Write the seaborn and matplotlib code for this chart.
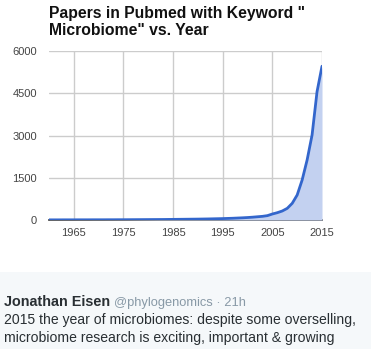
import matplotlib
matplotlib.use("Agg")
import matplotlib.pyplot as plt
import seaborn as sns
import pandas as pd
from matplotlib.patches import Rectangle

years = list(range(1960, 2016))
papers = [5, 5, 5, 6, 6, 6, 7, 7, 7, 8, 8, 8, 9, 9, 10, 10, 11, 12, 13, 14,
          15, 16, 17, 18, 20, 22, 24, 26, 28, 30, 32, 35, 38, 42, 46, 50, 56, 62, 70, 78,
          88, 100, 115, 130, 155, 213, 260, 320, 414, 592, 888, 1420, 2130, 3018, 4556, 5460]
y_ticks = [0, 1500, 3000, 4500, 6000]
x_ticks = [1965, 1975, 1985, 1995, 2005, 2015]

title = 'Papers in Pubmed with Keyword "\nMicrobiome" vs. Year'
tweet_name = "Jonathan Eisen"
tweet_handle = "@phylogenomics · 21h"
tweet_lines = ["2015 the year of microbiomes: despite some overselling,",
               "microbiome research is exciting, important & growing"]

df = pd.DataFrame({"year": years, "papers": papers})

sns.set_style("white")
plt.rcParams["font.family"] = ["Liberation Sans", "DejaVu Sans"]

W, H = 371, 349
fig = plt.figure(figsize=(W / 100, H / 100), dpi=100)
fig.patch.set_facecolor("white")
ax = fig.add_axes([49 / W, 1 - 220 / H, (322 - 49) / W, (220 - 51) / H])

line_color = "#3366cc"
ax.fill_between(df["year"], df["papers"], 0, color="#c3d1f0", lw=0, zorder=2)
sns.lineplot(data=df, x="year", y="papers", ax=ax, color=line_color, lw=2, zorder=3)

ax.set_xlim(1960, 2015)
ax.set_ylim(0, 6000)
ax.set_xticks(x_ticks)
ax.set_yticks(y_ticks)
ax.set_xticklabels([str(t) for t in x_ticks])
ax.set_yticklabels([str(t) for t in y_ticks])
ax.grid(True, color="#cccccc", lw=1, zorder=0)
ax.set_axisbelow(True)
for s in ["top", "right", "left"]:
    ax.spines[s].set_visible(False)
ax.spines["bottom"].set_color("#333333")
ax.spines["bottom"].set_linewidth(1.2)
ax.spines["bottom"].set_zorder(1)
ax.tick_params(axis="both", length=0, labelsize=8, labelcolor="#444444")
ax.tick_params(axis="x", pad=6)
ax.tick_params(axis="y", pad=8.5)
ax.set_xlabel("")
ax.set_ylabel("")

fig.text(49 / W, 1 - 6 / H, title, fontsize=11.3, fontweight="bold", color="#111111",
         ha="left", va="top", linespacing=1.2)

fig.patches.append(Rectangle((0, 0), 1, 1 - 272 / H, transform=fig.transFigure,
                             facecolor="#f5f8fa", edgecolor="none", zorder=0))

name_t = fig.text(4 / W, 1 - 306 / H, tweet_name, fontsize=10.4, fontweight="bold",
                  color="#292f33", ha="left", va="baseline")
fig.canvas.draw()
bb = name_t.get_window_extent()
fig.text((bb.x1 + 4) / W, 1 - 306 / H, tweet_handle, fontsize=9.3, color="#8899a6",
         ha="left", va="baseline")
fig.text(4 / W, 1 - 324 / H, tweet_lines[0], fontsize=10.1, color="#292f33",
         ha="left", va="baseline")
fig.text(4 / W, 1 - 342 / H, tweet_lines[1], fontsize=10.1, color="#292f33",
         ha="left", va="baseline")

fig.savefig("out.png", dpi=100, facecolor="white")
